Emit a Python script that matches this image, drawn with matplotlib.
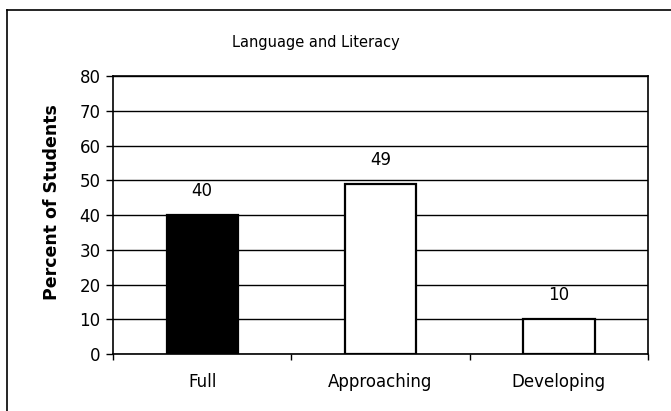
import matplotlib
matplotlib.use("Agg")
import matplotlib.pyplot as plt
from matplotlib.lines import Line2D

categories = ["Full", "Approaching", "Developing"]
percents = [40, 49, 10]
fill_colors = ["black", "white", "white"]
title = "Language and Literacy"
y_label = "Percent of Students"

plt.rcParams["font.family"] = ["DejaVu Sans"]

W, H = 671, 411
fig = plt.figure(figsize=(W / 100, H / 100), dpi=100)
ax = fig.add_axes([113 / W, 1 - 354 / H, 535 / W, 278 / H])

# chart frame (top and left edges; the rest runs off the page)
fig.add_artist(Line2D([7 / W, 1.0], [1 - 10 / H, 1 - 10 / H],
                      transform=fig.transFigure, color="black", linewidth=1.2))
fig.add_artist(Line2D([7 / W, 7 / W], [0.0, 1 - 10 / H],
                      transform=fig.transFigure, color="black", linewidth=1.2))

x = list(range(len(categories)))
ax.bar(x, percents, width=0.40, color=fill_colors,
       edgecolor="black", linewidth=1.6, zorder=3)
for xi, v in zip(x, percents):
    ax.text(xi, v + 4.3, str(v), ha="center", va="bottom", fontsize=12)

ax.set_xlim(-0.5, len(categories) - 0.5)
ax.set_ylim(0, 80)
ax.set_yticks(range(0, 81, 10))
ax.yaxis.grid(True, color="black", linewidth=1.0, zorder=0)
ax.set_axisbelow(True)

ax.set_xticks(x)
ax.set_xticklabels(categories, fontsize=12)
ax.set_xticks([i + 0.5 for i in range(-1, len(categories))], minor=True)
ax.tick_params(axis="x", which="major", length=0, pad=14)
ax.tick_params(axis="x", which="minor", length=4, direction="out", width=1)
ax.tick_params(axis="y", length=5, direction="out", labelsize=12, width=1, pad=4)

for s in ax.spines.values():
    s.set_linewidth(1.2)
    s.set_color("black")

ax.set_ylabel(y_label, fontsize=12.5, fontweight="bold")
ax.yaxis.set_label_coords(-0.097, 0.545)
fig.text(316 / W, 1 - 43 / H, title, ha="center", va="center", fontsize=10.5)

fig.savefig("out.png", dpi=100)
